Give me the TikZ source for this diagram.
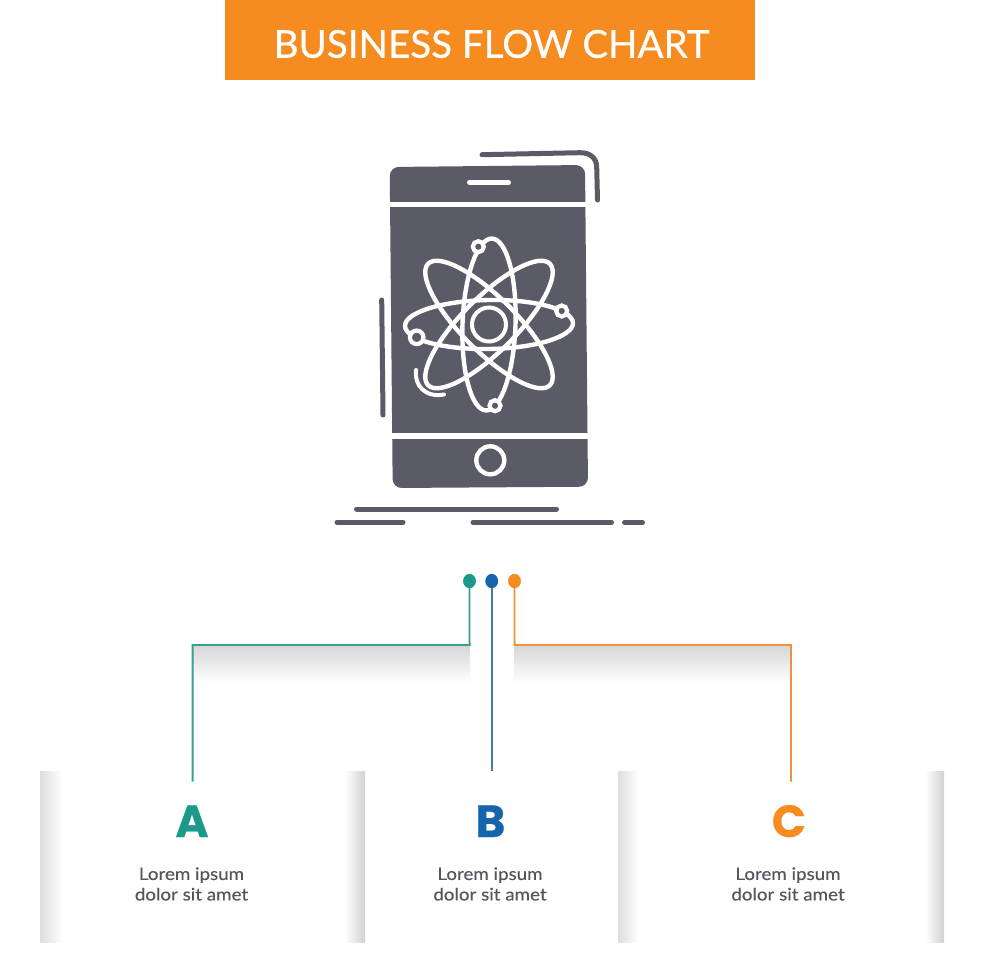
\documentclass[tikz,border=0pt]{standalone}
\usepackage{fontspec}
\setmainfont{Lato}
\newfontfamily\capfont[FakeStretch=1.09,FakeBold=0.25]{Lato}
\newfontfamily\headfont[FakeBold=0.6]{Lato}
\newfontfamily\lettersfont[BoldFont={Poppins Bold},BoldFeatures={FakeBold=0.5}]{Poppins}
\definecolor{ink}{HTML}{5B5A67}
\definecolor{txt}{HTML}{55555F}
\definecolor{org}{HTML}{F68B1F}
\definecolor{teal}{HTML}{1B9A8B}
\definecolor{blu}{HTML}{1565AD}
\definecolor{blul}{HTML}{3F7FA8}
\definecolor{tealine}{HTML}{37A093}
\definecolor{orgl}{HTML}{F0923A}
\usetikzlibrary{shapes.geometric}
\tikzset{
  x=1pt,y=-1pt,
  glyph/.style={line width=5pt,draw=ink,line cap=round},
  orbit/.style={draw=white,line width=4.4pt},
  electron/.style={circle,draw=white,fill=ink,line width=4.2pt,inner sep=0pt,minimum size=#1},
  dot/.style={ellipse,fill=#1,inner sep=0pt,minimum width=12.5pt,minimum height=14pt},
  wire/.style={line width=1.8pt,line join=miter},
  letter/.style={font=\lettersfont\bfseries\fontsize{45}{45}\selectfont,inner sep=0pt,anchor=base},
  lorem/.style={font=\capfont\fontsize{17.2}{20.5}\selectfont,text=txt,align=center,inner sep=0pt}
}
\begin{document}
\begin{tikzpicture}
\useasboundingbox (0,0) rectangle (980,980);
\fill[white] (0,0) rectangle (980,980);
% title
\fill[org] (225,0) rectangle (755,80);
\node[text=white,inner sep=0pt,font=\headfont\fontsize{38.5}{38.5}\selectfont] (title) at (491.5,44) {BUSINESS FLOW CHART};
% phone body
\fill[ink,rounded corners=9pt] (389.7,167) -- (585,165) -- (588,486.7) -- (392.7,488) -- cycle;
\draw[white,line width=5.4pt] (385,204.5) -- (595,204.5);
\draw[white,line width=5.4pt] (385,436) -- (595,436);
\draw[white,line width=5pt,line cap=round] (469.5,182.3) -- (508.5,182.3);
\draw[white,line width=4.4pt] (490.3,460.3) circle[radius=14];
% outside strokes
\draw[glyph] (482,154.7) -- (580,152.7) .. controls (590,152.5) and (596.5,158) .. (596.7,167) -- (597.5,200);
\draw[glyph] (381.7,300) -- (383,415);
\draw[glyph] (356.5,509) -- (556.5,509);
\draw[glyph] (337,522.3) -- (403,522.3);
\draw[glyph] (473,522.3) -- (611.5,522.3);
\draw[glyph] (624.5,522.3) -- (642.5,522.3);
% atom
\begin{scope}[shift={(489,324.5)}]
\draw[orbit] (0,0) ellipse[x radius=84,y radius=24.5,rotate=1];
\draw[orbit] (0,0) ellipse[x radius=86,y radius=27,rotate=-45];
\draw[orbit] (0,0) ellipse[x radius=86,y radius=27,rotate=45];
\draw[orbit] (0,0) ellipse[x radius=86,y radius=26.5,rotate=88];
\draw[white,line width=4pt] (0,0) circle[radius=17];
\end{scope}
\node[electron=11pt] (e1) at (478.3,246.7) {};
\node[electron=11pt] (e2) at (561.7,311) {};
\node[electron=13.5pt] (e3) at (416.7,337.3) {};
\node[electron=11pt] (e4) at (495,405.7) {};
\draw[white,line width=4pt,line cap=round] (416,370) .. controls (414,385) and (425,398) .. (444,394.5);
% gradients
\shade[top color=black!16,bottom color=white] (193,645) rectangle (470,683);
\shade[top color=black!16,bottom color=white] (514,645) rectangle (791,683);
\shade[left color=black!13,right color=white] (40,771) rectangle (62,942);
\shade[left color=white,right color=black!18] (345,771) rectangle (365,942);
\shade[left color=black!13,right color=white] (618.5,771) rectangle (638,942);
\shade[left color=white,right color=black!18] (925,771) rectangle (944,942);
% dots and connectors
\node[dot=teal] (da) at (469.5,581) {};
\node[dot=blu] (db) at (491.7,581) {};
\node[dot=org] (dc) at (514.5,581) {};
\coordinate (a1) at (469.6,645);
\coordinate (a2) at (192.6,645);
\coordinate (a3) at (192.6,781.5);
\coordinate (b3) at (491.7,771);
\coordinate (c1) at (514.6,645);
\coordinate (c2) at (791,645);
\coordinate (c3) at (791,781.5);
\draw[wire,draw=tealine] (da.center) -- (a1) -- (a2) -- (a3);
\draw[wire,draw=blul] (db.center) -- (b3);
\draw[wire,draw=orgl] (dc.center) -- (c1) -- (c2) -- (c3);
\fill[teal] (da.center) ellipse[x radius=6.25,y radius=7];
\fill[blu] (db.center) ellipse[x radius=6.25,y radius=7];
\fill[org] (dc.center) ellipse[x radius=6.25,y radius=7];
% letters
\node[letter,text=teal] (la) at (192,837) {A};
\node[letter,text=blu] (lb) at (490.5,837) {B};
\node[letter,text=org] (lc) at (789,837) {C};
% captions
\node[lorem] (ta) at (191.5,884) {Lorem ipsum\\dolor sit amet};
\node[lorem] (tb) at (490,884) {Lorem ipsum\\dolor sit amet};
\node[lorem] (tc) at (788,884) {Lorem ipsum\\dolor sit amet};
\end{tikzpicture}
\end{document}
